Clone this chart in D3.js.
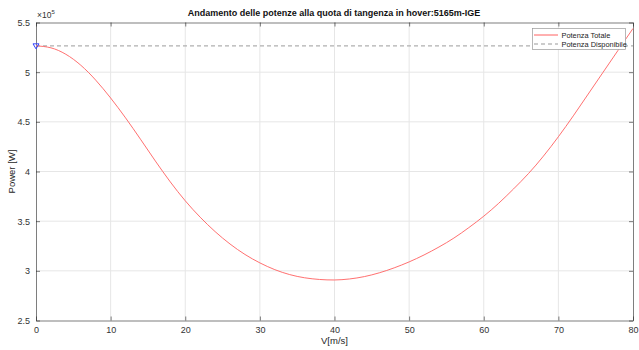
<!DOCTYPE html>
<html><head><meta charset="utf-8">
<script src="https://cdn.jsdelivr.net/npm/d3@7"></script>
<style>body{margin:0;background:#fff}svg{display:block;font-family:"Liberation Sans",Arial,sans-serif}</style>
</head><body>
<svg id="c" width="639" height="350"></svg>
<script>
const speeds = [0,2,4,6,8,10,12,14,16,18,20,22,24,26,28,30,32,34,36,38,40,42,44,46,48,50,52,54,56,58,60,62,64,66,68,70,72,74,76,78,80];
const powerTotal = [5.265,5.245,5.18,5.07,4.92,4.74,4.54,4.325,4.105,3.895,3.705,3.54,3.395,3.27,3.165,3.08,3.012,2.962,2.93,2.913,2.908,2.918,2.942,2.98,3.03,3.09,3.16,3.24,3.33,3.435,3.55,3.68,3.825,3.98,4.155,4.35,4.56,4.78,5.0,5.22,5.44];
const powerAvailable = 5.265;
const xTicks = [0,10,20,30,40,50,60,70,80];
const yTicks = [2.5,3,3.5,4,4.5,5,5.5];
const titleText = "Andamento delle potenze alla quota di tangenza in hover:5165m-IGE";
const legendLabels = ["Potenza Totale","Potenza Disponibile"];

const svg = d3.select("#c");
const L=36, R=633, T=22.5, B=320.5;
const x = d3.scaleLinear().domain([0,80]).range([L,R]);
const y = d3.scaleLinear().domain([2.5,5.5]).range([B,T]);
const axisCol="#262626", gridCol="#e6e6e6";

// grid
svg.append("g").selectAll("line").data(xTicks.slice(1,-1)).join("line")
  .attr("x1",d=>x(d)).attr("x2",d=>x(d)).attr("y1",T).attr("y2",B)
  .attr("stroke",gridCol).attr("stroke-width",1);
svg.append("g").selectAll("line").data(yTicks.slice(1,-1)).join("line")
  .attr("y1",d=>y(d)).attr("y2",d=>y(d)).attr("x1",L).attr("x2",R)
  .attr("stroke",gridCol).attr("stroke-width",1);

// axes
const xa = svg.append("g").attr("transform",`translate(0,${B})`)
  .call(d3.axisBottom(x).tickValues(xTicks).tickSizeInner(-4).tickSizeOuter(0).tickPadding(6).tickFormat(d3.format("d")));
const xt = svg.append("g").attr("transform",`translate(0,${T})`)
  .call(d3.axisTop(x).tickValues(xTicks).tickSizeInner(-4).tickSizeOuter(0).tickFormat(""));
const ya = svg.append("g").attr("transform",`translate(${L},0)`)
  .call(d3.axisLeft(y).tickValues(yTicks).tickSizeInner(-4).tickSizeOuter(0).tickPadding(6).tickFormat(d=>d3.format("")(d)));
const yr = svg.append("g").attr("transform",`translate(${R},0)`)
  .call(d3.axisRight(y).tickValues(yTicks).tickSizeInner(-4).tickSizeOuter(0).tickFormat(""));
[xa,xt,ya,yr].forEach(g=>{
  g.select(".domain").attr("stroke",axisCol).attr("stroke-width",0.6);
  g.selectAll(".tick line").attr("stroke",axisCol).attr("stroke-width",0.6);
  g.selectAll(".tick text").attr("fill","#333").style("font-size","9px").style("font-family","Liberation Sans, Arial, sans-serif");
});

// available power (dashed)
svg.append("line").attr("x1",x(0)).attr("x2",x(80)).attr("y1",y(powerAvailable)).attr("y2",y(powerAvailable))
  .attr("stroke","#b0b0b0").attr("stroke-width",1.2).attr("stroke-dasharray","4,3");

// total power curve
const line = d3.line().x((d,i)=>x(speeds[i])).y(d=>y(d)).curve(d3.curveNatural);
svg.append("path").datum(powerTotal).attr("d",line).attr("fill","none")
  .attr("stroke","#ff6060").attr("stroke-width",0.9);

// marker (downward triangle)
const mx=x(speeds[0]), my=y(powerAvailable);
svg.append("path").attr("d",`M${mx-3},${my-2} L${mx+3},${my-2} L${mx},${my+3} Z`)
  .attr("fill","none").attr("stroke","#3344ff").attr("stroke-width",1);

// title
svg.append("text").attr("x",334).attr("y",16).attr("text-anchor","middle")
  .style("font-size","9px").style("font-weight","bold").attr("fill","#111").text(titleText);

// exponent
const ex = svg.append("text").attr("x",37).attr("y",18).style("font-size","8.5px").attr("fill","#333");
ex.append("tspan").text("×10");
ex.append("tspan").attr("dy",-4).style("font-size","6px").text("5");

// axis labels
svg.append("text").attr("x",(L+R)/2).attr("y",344).attr("text-anchor","middle")
  .style("font-size","9.5px").attr("fill",axisCol).text("V[m/s]");
svg.append("text").attr("transform",`translate(15,${(T+B)/2}) rotate(-90)`).attr("text-anchor","middle")
  .style("font-size","9.5px").attr("fill",axisCol).text("Power [W]");

// legend
const lg = svg.append("g");
lg.append("rect").attr("x",532.5).attr("y",28.5).attr("width",93).attr("height",21)
  .attr("fill","#fff").attr("stroke","#999").attr("stroke-width",0.7);
const styles=[{c:"#ff6060",d:null,w:1},{c:"#9a9a9a",d:"4,3",w:1.1}];
legendLabels.forEach((t,i)=>{
  const yy = 35+i*9;
  lg.append("line").attr("x1",534).attr("x2",558).attr("y1",yy).attr("y2",yy)
    .attr("stroke",styles[i].c).attr("stroke-width",styles[i].w).attr("stroke-dasharray",styles[i].d);
  lg.append("text").attr("x",561.5).attr("y",yy+2.8).style("font-size","7.4px").attr("fill","#222").text(t);
});
</script>
</body></html>
